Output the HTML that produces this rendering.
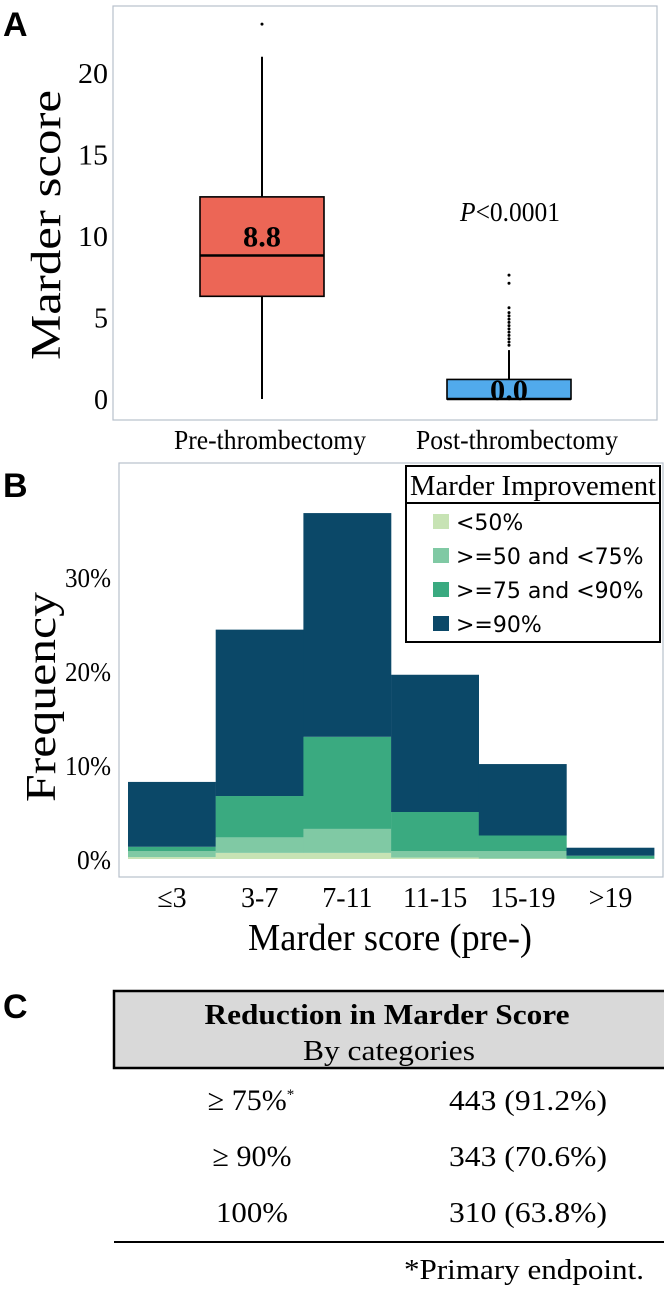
<!DOCTYPE html>
<html><head><meta charset="utf-8"><style>
html,body{margin:0;padding:0;background:#fff;}
svg{display:block;}
.serif{font-family:"Liberation Serif",serif;}
.sans{font-family:"Liberation Sans",sans-serif;}
</style></head><body>
<svg id="fig" width="664" height="1291" viewBox="0 0 664 1291" xmlns="http://www.w3.org/2000/svg">
<text x="3" y="36" class="sans" font-size="34" font-weight="bold">A</text>
<text x="3" y="497" class="sans" font-size="34" font-weight="bold">B</text>
<text x="3" y="1018" class="sans" font-size="34" font-weight="bold">C</text>
<g id="pa"></g>
<g id="pb"></g>
<g id="pc">
  <rect x="114" y="991" width="552" height="77" fill="#d9d9d9" stroke="#000" stroke-width="2.5"/>
  <text x="387" y="1024" text-anchor="middle" class="serif" font-size="29" font-weight="bold" textLength="365" lengthAdjust="spacingAndGlyphs">Reduction in Marder Score</text>
  <text x="389" y="1060" text-anchor="middle" class="serif" font-size="28" textLength="172" lengthAdjust="spacingAndGlyphs">By categories</text>
  <text x="251" y="1110" text-anchor="middle" class="serif" font-size="30">≥ 75%<tspan font-size="15" dy="-11">*</tspan></text>
  <text x="528" y="1110" text-anchor="middle" class="serif" font-size="28" textLength="158" lengthAdjust="spacingAndGlyphs">443 (91.2%)</text>
  <text x="252" y="1166" text-anchor="middle" class="serif" font-size="30">≥ 90%</text>
  <text x="528" y="1166" text-anchor="middle" class="serif" font-size="28" textLength="158" lengthAdjust="spacingAndGlyphs">343 (70.6%)</text>
  <text x="252" y="1222" text-anchor="middle" class="serif" font-size="28" textLength="72" lengthAdjust="spacingAndGlyphs">100%</text>
  <text x="528" y="1222" text-anchor="middle" class="serif" font-size="28" textLength="158" lengthAdjust="spacingAndGlyphs">310 (63.8%)</text>
  <line x1="114" y1="1242" x2="664" y2="1242" stroke="#000" stroke-width="2"/>
  <text x="644" y="1279" text-anchor="end" class="serif" font-size="28" textLength="240" lengthAdjust="spacingAndGlyphs">*Primary endpoint.</text>
</g>
</svg>
<script>
const NS='http://www.w3.org/2000/svg';
function mk(parent,tag,attrs,txt){const e=document.createElementNS(NS,tag);for(const k in attrs)e.setAttribute(k,attrs[k]);if(txt!==undefined)e.textContent=txt;parent.appendChild(e);return e;}

// ---------- Panel A data ----------
const boxGroups=['Pre-thrombectomy','Post-thrombectomy'];
const boxMin=[0,0];
const boxQ1=[6.3,0];
const boxMedian=[8.8,0];
const boxQ3=[12.4,1.2];
const boxMax=[21,3.0];
const boxLabels=['8.8','0.0'];
const outliersPre=[23];
const outliersPost=[3.3,3.5,3.7,3.9,4.1,4.3,4.5,4.7,4.9,5.1,5.3,5.6,7.1,7.6];
const aTicks=[0,5,10,15,20];

const pa=document.getElementById('pa');
const ay=v=>399-v*16.3;
const ax=i=>262+i*247;
let fr=mk(pa,'rect',{x:113,y:6,width:544,height:414,fill:'none',stroke:'#b8c0cc','stroke-width':1.2});


aTicks.forEach(t=>{const e=mk(pa,'text',{x:108,y:ay(t)+10,'text-anchor':'end',class:'serif','font-size':28,textLength:t>=10?30:14,lengthAdjust:'spacingAndGlyphs'},String(t));

});
const fills=['#ec6656','#51aaec'];
boxGroups.forEach((g,i)=>{
  const cx=ax(i);
  const w=mk(pa,'line',{x1:cx,x2:cx,y1:ay(boxMax[i]),y2:ay(boxMin[i]),stroke:'#000','stroke-width':2});
  
  
  const b=mk(pa,'rect',{x:cx-62,width:124,y:ay(boxQ3[i]),height:ay(boxQ1[i])-ay(boxQ3[i]),fill:fills[i],stroke:'#000','stroke-width':1.6});
  
  
  const m=mk(pa,'line',{x1:cx-62,x2:cx+62,y1:ay(boxMedian[i]),y2:ay(boxMedian[i]),stroke:'#000','stroke-width':2.5});
  
  
  const l=mk(pa,'text',{x:cx,y:i?ay(boxMedian[i])+1:ay(boxMedian[i])-9,'text-anchor':'middle',class:'serif','font-size':30,'font-weight':'bold',textLength:38,lengthAdjust:'spacingAndGlyphs'},boxLabels[i]);
  
  
  const xl=mk(pa,'text',{x:cx+8,y:449,'text-anchor':'middle',class:'serif','font-size':27,textLength:i?202:192,lengthAdjust:'spacingAndGlyphs'},g);
  
  
});
[[0,outliersPre],[1,outliersPost]].forEach(([i,arr])=>arr.forEach(v=>{
  const c=mk(pa,'circle',{cx:ax(i),cy:ay(v),r:1.5,fill:'#000'});
  
  
}));
let pt=mk(pa,'text',{x:510,y:221,'text-anchor':'middle',class:'serif','font-size':27,textLength:100,lengthAdjust:'spacingAndGlyphs'});
pt.innerHTML='<tspan font-style="italic">P</tspan>&lt;0.0001';


let yta=mk(pa,'text',{transform:'translate(60,225) rotate(-90)','text-anchor':'middle',class:'serif','font-size':42,textLength:270,lengthAdjust:'spacingAndGlyphs'},'Marder score');



// ---------- Panel B data ----------
const binLabels=['≤3','3-7','7-11','11-15','15-19','>19'];
const seriesNames=['<50%','>=50 and <75%','>=75 and <90%','>=90%'];
const sLt50=[0.2,0.65,0.65,0.15,0.05,0];
const s50to75=[0.65,1.65,2.55,0.7,0.8,0.05];
const s75to90=[0.45,4.4,9.8,4.15,1.65,0.3];
const sGe90=[6.9,17.7,23.8,14.6,7.6,0.85];
const bTicks=[0,10,20,30];
const series=[sLt50,s50to75,s75to90,sGe90];
const colors=['#c7e3b4','#80c9a4','#3aaa80','#0b4868'];

const pb=document.getElementById('pb');
const by=v=>859-v*9.4;
const bx=i=>128+i*87.7;
let frb=mk(pb,'rect',{x:119,y:463,width:544,height:414,fill:'none',stroke:'#b8c0cc','stroke-width':1.2});


binLabels.forEach((b,i)=>{
  let cum=0;
  series.forEach((s,k)=>{
    const r=mk(pb,'rect',{x:bx(i),width:87.9,y:by(cum+s[i]),height:by(cum)-by(cum+s[i]),fill:colors[k]});
    
    
    cum+=s[i];
  });
  const t=mk(pb,'text',{x:bx(i)+44,y:907,'text-anchor':'middle',class:'serif','font-size':28},b);
  
  
});
bTicks.forEach(t=>{const e=mk(pb,'text',{x:111,y:by(t)+10,'text-anchor':'end',class:'serif','font-size':27,textLength:t?46:34,lengthAdjust:'spacingAndGlyphs'},t+'%');

});
let ytb=mk(pb,'text',{transform:'translate(55,697) rotate(-90)','text-anchor':'middle',class:'serif','font-size':42,textLength:210,lengthAdjust:'spacingAndGlyphs'},'Frequency');


let xtb=mk(pb,'text',{x:390,y:950,'text-anchor':'middle',class:'serif','font-size':38,textLength:284,lengthAdjust:'spacingAndGlyphs'},'Marder score (pre-)');


// legend
const lg=mk(pb,'g',{});


mk(lg,'rect',{x:406,y:466,width:254,height:176,fill:'#fff',stroke:'#000','stroke-width':2});
mk(lg,'line',{x1:406,x2:660,y1:503,y2:503,stroke:'#000','stroke-width':2});
let lt=mk(lg,'text',{x:533,y:495,'text-anchor':'middle',class:'serif','font-size':28,textLength:246,lengthAdjust:'spacingAndGlyphs'},'Marder Improvement');


seriesNames.forEach((n,k)=>{
  const cy=522+k*34;
  const sw=mk(lg,'rect',{x:433,y:cy-8,width:16,height:15,fill:colors[k]});
  
  
  const tx=mk(lg,'text',{x:456,y:cy+8,class:'sans','font-size':22,style:'font-family:"DejaVu Sans",sans-serif'},n);
  
  
});
</script>
</body></html>
